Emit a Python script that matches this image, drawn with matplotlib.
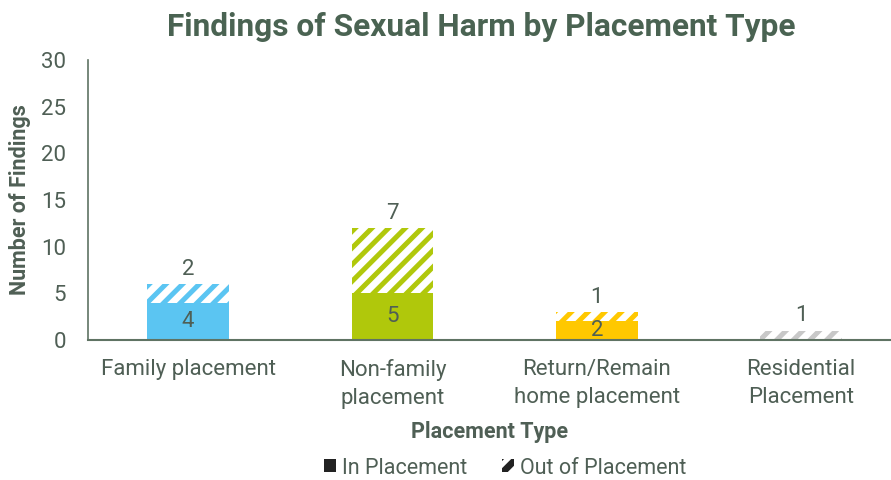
import matplotlib
matplotlib.use("Agg")
import matplotlib.pyplot as plt
from matplotlib.patches import Patch

categories = ["Family placement", "Non-family\nplacement", "Return/Remain\nhome placement", "Residential\nPlacement"]
in_placement = [4, 5, 2, 0]
out_placement = [2, 7, 1, 1]
colors = ["#5BC5F2", "#B0C80B", "#FFC800", "#C8C8C8"]
yticks = [0, 5, 10, 15, 20, 25, 30]

text_col = "#4F5F55"
title_col = "#4A6352"
axis_col = "#5F7363"

plt.rcParams['font.family'] = ['Roboto', 'DejaVu Sans']
plt.rcParams['hatch.linewidth'] = 3.6

fig = plt.figure(figsize=(8.91, 4.8), dpi=100)
ax = fig.add_axes([88/891, 1 - 340/480, (891-88)/891, 280/480])

x = list(range(len(categories)))
w = 0.40
for i in x:
    if in_placement[i] > 0:
        ax.bar(i, in_placement[i], width=w, color=colors[i], linewidth=0)
        ax.text(i, in_placement[i] / 2, str(in_placement[i]), ha='center', va='center',
                fontsize=16, color=text_col)
    ax.bar(i, out_placement[i], bottom=in_placement[i], width=w, facecolor='white',
           edgecolor=colors[i], hatch='//', linewidth=0)
    top = in_placement[i] + out_placement[i]
    ax.text(i, top + 0.45, str(out_placement[i]), ha='center', va='bottom',
            fontsize=16, color=text_col)

ax.set_ylim(0, 30)
ax.set_xlim(-0.49, 3.44)
ax.set_yticks(yticks)
ax.set_xticks(x)
ax.set_xticklabels(categories, fontsize=16, color=text_col, linespacing=1.4)
ax.tick_params(axis='y', labelsize=16, colors=text_col, length=0, pad=16)
ax.tick_params(axis='x', length=0, pad=14)
for s in ['top', 'right']:
    ax.spines[s].set_visible(False)
ax.spines['left'].set_color(axis_col)
ax.spines['bottom'].set_color(axis_col)
ax.spines['left'].set_linewidth(1.2)
ax.spines['bottom'].set_linewidth(1.5)

ax.set_ylabel("Number of Findings", fontsize=15.5, fontweight='bold', color=text_col)
ax.yaxis.set_label_coords(-0.071, 0.5)
ax.set_xlabel("Placement Type", fontsize=15.5, fontweight='bold', color=text_col, labelpad=9)

fig.text(481/891, 1 - 27/480, "Findings of Sexual Harm by Placement Type", ha='center', va='center',
         fontsize=22.8, fontweight='bold', color=title_col)

handles = [Patch(facecolor='#222222', edgecolor='none', label='In Placement'),
           Patch(facecolor='#222222', edgecolor='white', hatch='//', linewidth=0, label='Out of Placement')]
leg = fig.legend(handles=handles, loc='center', bbox_to_anchor=(505/891, 1 - 468/480), ncol=2,
                 frameon=False, fontsize=15.5, handlelength=0.55, handleheight=0.55,
                 handletextpad=0.3, columnspacing=1.6, labelcolor=text_col)

fig.savefig("out.png", dpi=100)
